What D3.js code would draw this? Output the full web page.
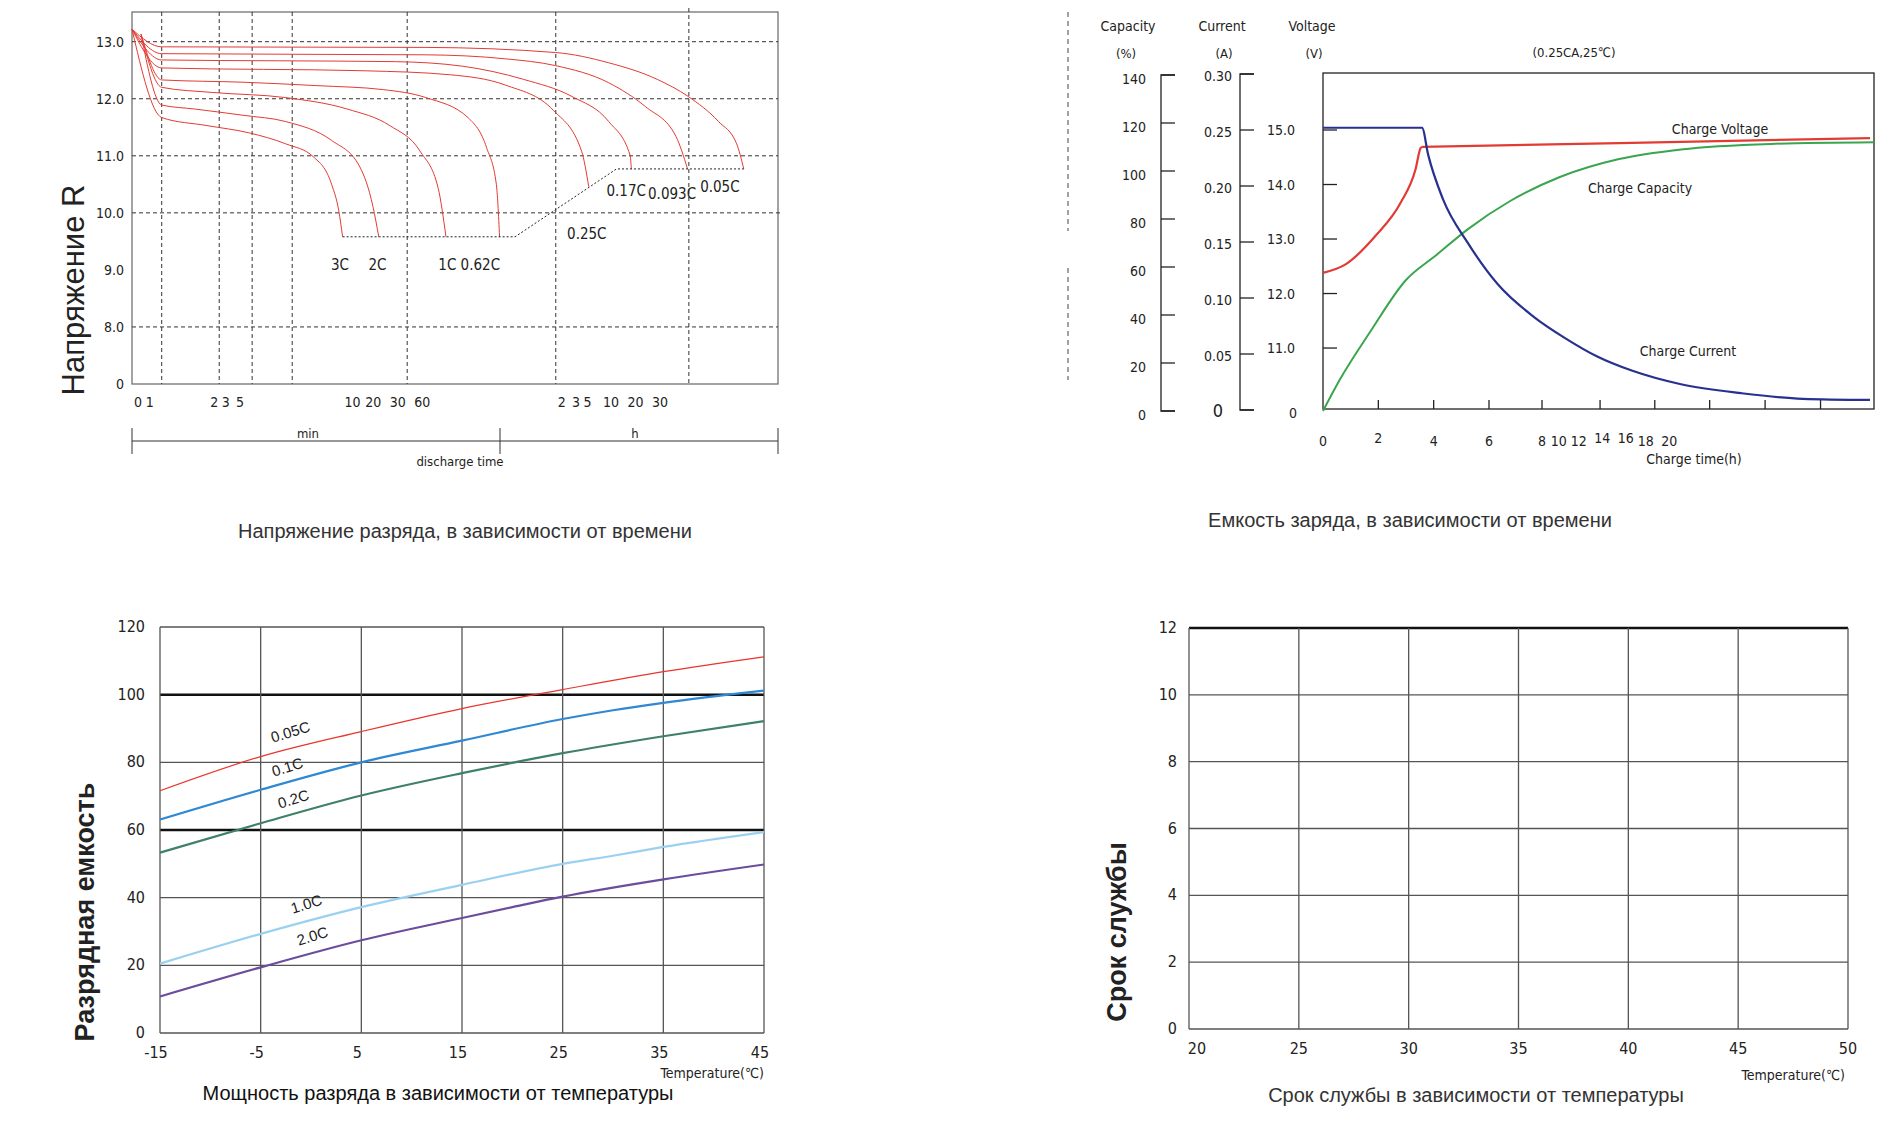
<!DOCTYPE html>
<html>
<head>
<meta charset="utf-8">
<script src="https://cdn.jsdelivr.net/npm/d3@7"></script>
<style>
  body { margin: 0; background: #fff; }
  svg text { font-family: "Liberation Sans Narrow", "DejaVu Sans Condensed", sans-serif; fill: #222; }
  .title { font-family: "Liberation Sans", Arial, sans-serif !important; font-size: 20px; fill: #333; }
  .big { font-family: "Liberation Sans", Arial, sans-serif !important; font-weight: bold; font-size: 27px; }
</style>
</head>
<body>
<svg id="g" width="1900" height="1146"></svg>
<script>
// ---- chart 1: discharge voltage vs time (x in chart units 0..100, y in volts)
const dischargeGridX = [4.6, 13.5, 18.6, 24.8, 42.6, 65.6, 86.2];
const dischargeGridY = [8, 10, 11, 12, 13];
const dischargeTicksY = [[7, "0"], [8, "8.0"], [9, "9.0"], [10, "10.0"], [11, "11.0"], [12, "12.0"], [13, "13.0"]];
const dischargeTicksX = [[0, "0"], [1.8, "1"], [11.8, "2"], [13.6, "3"], [15.8, "5"], [32.6, "10"], [35.8, "20"], [39.6, "30"], [43.4, "60"], [65.6, "2"], [67.8, "3"], [69.6, "5"], [72.6, "10"], [76.4, "20"], [80.2, "30"]];
const dischargeCurves = [
  {name: "0.05C", pts: [[0,13.22],[4.6,12.91],[45.5,12.9],[65.6,12.81],[73.8,12.63],[81.3,12.34],[86.1,12.04],[90.8,11.6],[93.6,11.21],[94.7,10.77]]},
  {name: "0.093C", pts: [[0,13.22],[4.6,12.79],[45.5,12.77],[57.8,12.70],[65.6,12.58],[73.8,12.28],[79.5,11.86],[84.2,11.34],[86,10.77]]},
  {name: "0.17C", pts: [[0,13.22],[4.6,12.68],[40.8,12.65],[51.2,12.57],[60.6,12.34],[68.1,12.04],[73.8,11.6],[77.1,11.01],[77.3,10.77]]},
  {name: "0.25C", pts: [[0,13.22],[4.6,12.54],[36.1,12.49],[49.3,12.42],[57.8,12.24],[65.3,11.79],[69.6,11.08],[70.7,10.46]]},
  {name: "0.62C", pts: [[1.4,13.13],[4.6,12.33],[17.2,12.29],[28.6,12.23],[38.9,12.16],[45.5,12.02],[52.1,11.66],[54.9,11.14],[56.4,10.5],[56.9,9.58]]},
  {name: "1C", pts: [[1.4,13.13],[4.6,12.2],[12.5,12.11],[23.8,12.02],[33.3,11.82],[39.9,11.53],[44.6,11.08],[47.4,10.43],[48.6,9.58]]},
  {name: "2C", pts: [[1.4,13.13],[4.6,11.89],[9.7,11.82],[17.2,11.71],[23.8,11.6],[30.9,11.27],[35.2,10.82],[37.3,10.11],[38.2,9.58]]},
  {name: "3C", pts: [[0,13.22],[4.6,11.67],[11.6,11.53],[18.2,11.4],[23.8,11.21],[28.1,10.98],[30.9,10.5],[32,10.04],[32.6,9.58]]}
];
const cutoffLine = [[32.6, 9.58], [59.3, 9.58], [75.0, 10.77], [94.7, 10.77]];
const dischargeLabels = [["3C",32.2,9.0],["2C",38,9.0],["1C 0.62C",52.2,9.0],["0.25C",70.4,9.55],["0.17C",76.5,10.3],["0.093C",83.6,10.25],["0.05C",91,10.37]];

// ---- chart 2: charge characteristics (x in hours)
const chargeTimeDomain = [0, 6, 8, 20, 30];
const chargeTickMarks = [2, 4, 6, 8, 13.2, 18.1, 21.7, 24.5, 27.3];
const chargeTickLabels = [[0,"0"],[2,"2"],[4,"4"],[6,"6"],[8,"8"],[9.5,"10"],[11.3,"12"],[13.4,"14"],[15.5,"16"],[17.3,"18"],[19.4,"20"]];
const capacityTicks = [0, 20, 40, 60, 80, 100, 120, 140];
const currentTicks = [0, 0.05, 0.10, 0.15, 0.20, 0.25, 0.30];
const voltageTicks = [11, 12, 13, 14, 15];
const chargeCurrent = [[0,0.252],[3.58,0.252],[3.8,0.228],[4.34,0.188],[5.24,0.149],[6.34,0.112],[7.7,0.083],[10.1,0.064],[12.9,0.048],[16.1,0.035],[20.25,0.023],[23.3,0.015],[26.4,0.010],[29.8,0.009]];
const chargeVoltage = [[0,12.38],[0.83,12.54],[1.9,13.06],[2.8,13.66],[3.34,14.27],[3.53,14.67],[3.58,14.69],[14.9,14.76],[29.8,14.85]];
const chargeCapacity = [[0,0],[0.6,12.9],[1.7,32.9],[3.0,54.6],[4.1,65],[5.24,75.8],[6.8,87.5],[9.6,97.5],[14.9,105],[20.25,109],[24.8,111.3],[30,112]];

// ---- chart 3: capacity vs temperature
const tempTicks = [-15, -5, 5, 15, 25, 35, 45];
const capTicks = [0, 20, 40, 60, 80, 100, 120];
const tempSeries = [
  {name: "0.05C", color: "#e8352c", w: 1.2, pts: [[-15,71.6],[-5,81.7],[5,89.1],[15,95.9],[25,101.5],[35,106.8],[45,111.2]], lab: [292,737]},
  {name: "0.1C", color: "#2f88d3", w: 2.2, pts: [[-15,63.1],[-5,71.9],[5,80],[15,86.4],[25,92.8],[30,95.4],[35,97.6],[45,101.2]], lab: [289,772]},
  {name: "0.2C", color: "#3f8068", w: 2.2, pts: [[-15,53.3],[-5,62],[5,70.2],[15,76.8],[25,82.7],[35,87.7],[45,92.2]], lab: [295,804]},
  {name: "1.0C", color: "#9bd0f0", w: 2.2, pts: [[-15,20.5],[-5,29.3],[5,37.2],[15,43.8],[25,50],[30,52.4],[35,55],[45,59.4]], lab: [308,909]},
  {name: "2.0C", color: "#6b4d9c", w: 2.2, pts: [[-15,10.8],[-5,19.4],[5,27.4],[15,34],[20,37.2],[25,40.3],[35,45.4],[45,49.8]], lab: [314,941]}
];

// ---- chart 4: service life vs temperature (empty grid)
const lifeTempTicks = [20, 25, 30, 35, 40, 45, 50];
const lifeTicks = [0, 2, 4, 6, 8, 10, 12];

const svg = d3.select("#g");

// ================= chart 1
{
  const x = d3.scaleLinear().domain([0, 100]).range([132, 778]);
  const y = d3.scaleLinear().domain([7, 13]).range([384, 41.7]);
  const g = svg.append("g");
  g.append("rect").attr("x", 132).attr("y", 12).attr("width", 646).attr("height", 372)
    .attr("fill", "none").attr("stroke", "#666").attr("stroke-width", 1.2);
  g.selectAll(".hg").data(dischargeGridY).enter().append("line")
    .attr("x1", 132).attr("x2", d => d == 10 ? 782 : 778).attr("y1", y).attr("y2", y)
    .attr("stroke", "#333").attr("stroke-dasharray", "4,3");
  g.selectAll(".vg").data(dischargeGridX).enter().append("line")
    .attr("x1", x).attr("x2", x).attr("y1", d => d == 86.2 ? 8 : 12).attr("y2", 384)
    .attr("stroke", "#333").attr("stroke-dasharray", "4,3");
  g.selectAll(".yt").data(dischargeTicksY).enter().append("text")
    .attr("x", 124).attr("y", d => y(d[0]) + 5).attr("text-anchor", "end")
    .style("font-size", "14px").text(d => d[1]);
  g.selectAll(".xt").data(dischargeTicksX).enter().append("text")
    .attr("x", d => x(d[0]) + 2).attr("y", 407)
    .style("font-size", "14px").text(d => d[1]);
  const line = d3.line().x(d => x(d[0])).y(d => y(d[1])).curve(d3.curveMonotoneX);
  g.selectAll(".c").data(dischargeCurves).enter().append("path")
    .attr("d", d => line(d.pts)).attr("fill", "none").attr("stroke", "#e23b33").attr("stroke-width", 1);
  g.append("path").attr("d", d3.line().x(d => x(d[0])).y(d => y(d[1]))(cutoffLine))
    .attr("fill", "none").attr("stroke", "#222").attr("stroke-dasharray", "2,2");
  g.selectAll(".cl").data(dischargeLabels).enter().append("text")
    .attr("x", d => x(d[1])).attr("y", d => y(d[2])).attr("text-anchor", "middle")
    .style("font-size", "15px").text(d => d[0]);
  // min / h bracket
  g.append("line").attr("x1", 132).attr("x2", 778).attr("y1", 441).attr("y2", 441).attr("stroke", "#333");
  [132, 500, 778].forEach(v => g.append("line").attr("x1", v).attr("x2", v).attr("y1", 428).attr("y2", 454).attr("stroke", "#333"));
  g.append("text").attr("x", 308).attr("y", 438).attr("text-anchor", "middle").style("font-size", "13px").text("min");
  g.append("text").attr("x", 635).attr("y", 438).attr("text-anchor", "middle").style("font-size", "13px").text("h");
  g.append("text").attr("x", 460).attr("y", 466).attr("text-anchor", "middle").style("font-size", "13px").text("discharge time");
  g.append("text").attr("class", "big").attr("transform", "translate(84,290) rotate(-90)")
    .attr("text-anchor", "middle").style("font-weight", "normal").style("font-size", "31px").text("Напряжение  R");
  g.append("text").attr("class", "title").attr("x", 465).attr("y", 538).attr("text-anchor", "middle")
    .text("Напряжение разряда, в зависимости от времени");
}

// ================= chart 2
{
  const x = d3.scaleLinear().domain(chargeTimeDomain).range([1323, 1489, 1542, 1676, 1874]);
  const yCap = d3.scaleLinear().domain([0, 140]).range([411, 75]);
  const yCur = d3.scaleLinear().domain([0, 0.30]).range([410, 74]);
  const yVol = d3.scaleLinear().domain([9.9, 15]).range([408, 130]);
  const g = svg.append("g");
  g.append("line").attr("x1", 1068).attr("x2", 1068).attr("y1", 12).attr("y2", 231).attr("stroke", "#444").attr("stroke-dasharray", "5,4");
  g.append("line").attr("x1", 1068).attr("x2", 1068).attr("y1", 268).attr("y2", 380).attr("stroke", "#444").attr("stroke-dasharray", "5,4");
  g.append("rect").attr("x", 1323).attr("y", 73).attr("width", 551).attr("height", 336)
    .attr("fill", "none").attr("stroke", "#222").attr("stroke-width", 1.3);
  // capacity axis
  g.append("path").attr("d", "M1175,75H1161V411H1175").attr("fill", "none").attr("stroke", "#222").attr("stroke-width", 1.3);
  g.selectAll(".ct").data(capacityTicks).enter().append("line")
    .attr("x1", 1161).attr("x2", 1175).attr("y1", yCap).attr("y2", yCap).attr("stroke", "#222").attr("stroke-width", 1.3);
  g.selectAll(".cl").data(capacityTicks).enter().append("text")
    .attr("x", 1146).attr("y", d => yCap(d) + 9).attr("text-anchor", "end").style("font-size", "14px").text(d => d);
  // current axis
  g.append("path").attr("d", "M1254,74H1240V410H1254").attr("fill", "none").attr("stroke", "#222").attr("stroke-width", 1.3);
  g.selectAll(".it").data(currentTicks).enter().append("line")
    .attr("x1", 1240).attr("x2", 1254).attr("y1", yCur).attr("y2", yCur).attr("stroke", "#222").attr("stroke-width", 1.3);
  g.selectAll(".il").data(currentTicks).enter().append("text")
    .attr("x", 1218).attr("y", d => yCur(d) + 7).attr("text-anchor", "middle")
    .style("font-size", d => d == 0 ? "18px" : "14px").text(d => d == 0 ? "0" : d.toFixed(2));
  // voltage axis
  g.selectAll(".vt").data(voltageTicks).enter().append("line")
    .attr("x1", 1323).attr("x2", 1337).attr("y1", yVol).attr("y2", yVol).attr("stroke", "#222").attr("stroke-width", 1.3);
  g.selectAll(".vl").data(voltageTicks).enter().append("text")
    .attr("x", 1281).attr("y", d => yVol(d) + 5).attr("text-anchor", "middle").style("font-size", "14px").text(d => d.toFixed(1));
  g.append("text").attr("x", 1293).attr("y", 418).attr("text-anchor", "middle").style("font-size", "14px").text("0");
  // headers
  [["Capacity", 1128], ["Current", 1222], ["Voltage", 1312]].forEach(h =>
    g.append("text").attr("x", h[1]).attr("y", 31).attr("text-anchor", "middle").style("font-size", "14px").text(h[0]));
  [["(%)", 1126], ["(A)", 1224], ["(V)", 1314]].forEach(h =>
    g.append("text").attr("x", h[1]).attr("y", 58).attr("text-anchor", "middle").style("font-size", "13px").text(h[0]));
  g.append("text").attr("x", 1574).attr("y", 57).attr("text-anchor", "middle").style("font-size", "13px").text("(0.25CA,25℃)");
  // x ticks
  g.selectAll(".xt").data(chargeTickMarks).enter().append("line")
    .attr("x1", x).attr("x2", x).attr("y1", 400).attr("y2", 409).attr("stroke", "#222").attr("stroke-width", 1.3);
  g.selectAll(".xl").data(chargeTickLabels).enter().append("text")
    .attr("x", d => x(d[0])).attr("y", d => (d[0] == 2 || d[0] >= 12 && d[0] < 16) ? 443 : 446).attr("text-anchor", "middle")
    .style("font-size", "14px").text(d => d[1]);
  g.append("text").attr("x", 1694).attr("y", 464).attr("text-anchor", "middle").style("font-size", "14px").text("Charge time(h)");
  const mk = ys => d3.line().x(d => x(d[0])).y(d => ys(d[1])).curve(d3.curveMonotoneX);
  g.append("path").attr("d", mk(yCap)(chargeCapacity)).attr("fill", "none").attr("stroke", "#3aa54f").attr("stroke-width", 2);
  g.append("path").attr("d", d3.line().x(d => x(d[0])).y(d => yVol(d[1])).curve(d3.curveLinear)(chargeVoltage.slice(6)))
    .attr("fill", "none").attr("stroke", "#e23b33").attr("stroke-width", 2.2);
  g.append("path").attr("d", mk(yVol)(chargeVoltage.slice(0, 7))).attr("fill", "none").attr("stroke", "#e23b33").attr("stroke-width", 2.2);
  g.append("path").attr("d", mk(yCur)(chargeCurrent)).attr("fill", "none").attr("stroke", "#27318f").attr("stroke-width", 2.2);
  g.append("text").attr("x", 1720).attr("y", 134).attr("text-anchor", "middle").style("font-size", "14px").text("Charge Voltage");
  g.append("text").attr("x", 1640).attr("y", 193).attr("text-anchor", "middle").style("font-size", "14px").text("Charge Capacity");
  g.append("text").attr("x", 1688).attr("y", 356).attr("text-anchor", "middle").style("font-size", "14px").text("Charge Current");
  g.append("text").attr("class", "title").attr("x", 1410).attr("y", 527).attr("text-anchor", "middle")
    .text("Емкость заряда, в зависимости от времени");
}

// ================= chart 3
{
  const x = d3.scaleLinear().domain([-15, 45]).range([160, 764]);
  const y = d3.scaleLinear().domain([0, 120]).range([1033, 627]);
  const g = svg.append("g");
  g.selectAll(".h").data(capTicks).enter().append("line")
    .attr("x1", 160).attr("x2", 764).attr("y1", y).attr("y2", y)
    .attr("stroke", d => (d == 100 || d == 60) ? "#111" : "#555").attr("stroke-width", d => (d == 100 || d == 60) ? 2.5 : 1.3);
  g.selectAll(".v").data(tempTicks).enter().append("line")
    .attr("x1", x).attr("x2", x).attr("y1", 627).attr("y2", 1033).attr("stroke", "#555").attr("stroke-width", 1.3);
  g.selectAll(".yl").data(capTicks).enter().append("text")
    .attr("x", 145).attr("y", d => y(d) + 5).attr("text-anchor", "end").style("font-size", "16px").text(d => d);
  g.selectAll(".xl").data(tempTicks).enter().append("text")
    .attr("x", d => x(d) - 4).attr("y", 1058).attr("text-anchor", "middle").style("font-size", "16px").text(d => d);
  g.append("text").attr("x", 764).attr("y", 1078).attr("text-anchor", "end").style("font-size", "14px").text("Temperature(℃)");
  const line = d3.line().x(d => x(d[0])).y(d => y(d[1])).curve(d3.curveMonotoneX);
  g.selectAll(".s").data(tempSeries).enter().append("path")
    .attr("d", d => line(d.pts)).attr("fill", "none").attr("stroke", d => d.color).attr("stroke-width", d => d.w);
  g.selectAll(".sl").data(tempSeries).enter().append("text")
    .attr("transform", d => `translate(${d.lab[0]},${d.lab[1]}) rotate(-17)`).attr("text-anchor", "middle")
    .style("font-family", "Liberation Sans, sans-serif").style("font-size", "15px").text(d => d.name);
  g.append("text").attr("class", "big").attr("transform", "translate(94,912) rotate(-90)")
    .attr("text-anchor", "middle").text("Разрядная емкость");
  g.append("text").attr("class", "title").attr("x", 438).attr("y", 1100).attr("text-anchor", "middle")
    .style("fill", "#111").text("Мощность разряда в зависимости от температуры");
}

// ================= chart 4
{
  const x = d3.scaleLinear().domain([20, 50]).range([1189, 1848]);
  const y = d3.scaleLinear().domain([0, 12]).range([1029, 628]);
  const g = svg.append("g");
  g.selectAll(".h").data(lifeTicks).enter().append("line")
    .attr("x1", 1189).attr("x2", 1848).attr("y1", y).attr("y2", y)
    .attr("stroke", d => d == 12 ? "#111" : "#555").attr("stroke-width", d => d == 12 ? 2.5 : 1.3);
  g.selectAll(".v").data(lifeTempTicks).enter().append("line")
    .attr("x1", x).attr("x2", x).attr("y1", 628).attr("y2", 1029).attr("stroke", "#555").attr("stroke-width", 1.3);
  g.selectAll(".yl").data(lifeTicks).enter().append("text")
    .attr("x", 1177).attr("y", d => y(d) + 5).attr("text-anchor", "end").style("font-size", "16px").text(d => d);
  g.selectAll(".xl").data(lifeTempTicks).enter().append("text")
    .attr("x", d => x(d) + (d == 20 ? 8 : 0)).attr("y", 1054).attr("text-anchor", "middle").style("font-size", "16px").text(d => d);
  g.append("text").attr("x", 1845).attr("y", 1080).attr("text-anchor", "end").style("font-size", "14px").text("Temperature(℃)");
  g.append("text").attr("class", "big").attr("transform", "translate(1126,932) rotate(-90)")
    .attr("text-anchor", "middle").text("Срок службы");
  g.append("text").attr("class", "title").attr("x", 1476).attr("y", 1102).attr("text-anchor", "middle")
    .text("Срок службы в зависимости от температуры");
}
</script>
</body>
</html>
